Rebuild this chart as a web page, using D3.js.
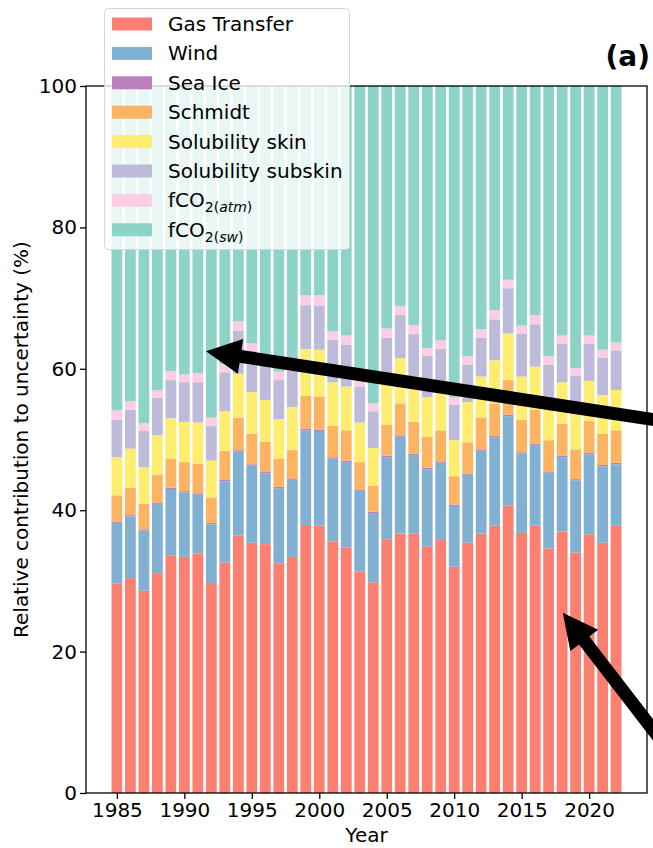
<!DOCTYPE html>
<html>
<head>
<meta charset="utf-8">
<script src="https://cdn.jsdelivr.net/npm/d3@7"></script>
<style>
  body { margin: 0; background: #fff; }
  text { font-family: "DejaVu Sans", sans-serif; fill: #000; }
</style>
</head>
<body>
<svg id="chart" width="653" height="848"></svg>
<script>
// 年
const years = [1985, 1986, 1987, 1988, 1989, 1990, 1991, 1992, 1993, 1994,
               1995, 1996, 1997, 1998, 1999, 2000, 2001, 2002, 2003, 2004,
               2005, 2006, 2007, 2008, 2009, 2010, 2011, 2012, 2013, 2014,
               2015, 2016, 2017, 2018, 2019, 2020, 2021, 2022];

// 各要素の寄与 (%)
const gasTransfer = [29.6, 30.4, 28.6, 31.1, 33.6, 33.4, 33.9, 29.7, 32.6, 36.4,
                     35.4, 35.2, 32.5, 33.4, 37.9, 37.8, 35.6, 34.7, 31.3, 29.8,
                     35.9, 36.7, 36.7, 34.9, 35.8, 32.0, 35.4, 36.7, 37.8, 40.7,
                     36.8, 37.8, 34.6, 37.0, 34.0, 36.6, 35.4, 37.8];
const wind = [8.6, 8.7, 8.5, 9.8, 9.4, 9.1, 8.3, 8.3, 11.5, 11.9,
              10.9, 10.0, 10.6, 10.9, 13.4, 13.4, 11.7, 12.1, 11.4, 9.8,
              11.6, 13.7, 11.1, 10.9, 10.9, 8.6, 9.6, 11.7, 12.5, 12.6,
              11.2, 11.4, 10.7, 10.5, 10.2, 11.3, 10.8, 8.7];
const seaIce = [0.2, 0.2, 0.2, 0.2, 0.2, 0.2, 0.2, 0.2, 0.2, 0.2,
                0.2, 0.2, 0.2, 0.2, 0.2, 0.2, 0.2, 0.2, 0.2, 0.2,
                0.2, 0.2, 0.2, 0.2, 0.2, 0.2, 0.2, 0.2, 0.2, 0.2,
                0.2, 0.2, 0.2, 0.2, 0.2, 0.2, 0.2, 0.2];
const schmidt = [3.7, 3.9, 3.6, 3.9, 4.1, 4.1, 4.2, 3.6, 4.1, 4.6,
                 4.3, 4.3, 4.0, 4.0, 4.7, 4.7, 4.4, 4.3, 3.9, 3.7,
                 4.4, 4.5, 4.5, 4.4, 4.4, 4.0, 4.4, 4.5, 4.6, 4.9,
                 4.6, 4.8, 4.4, 4.5, 4.2, 4.5, 4.4, 4.6];
const solSkin = [5.4, 5.5, 5.2, 5.6, 5.7, 5.7, 5.8, 5.2, 5.6, 6.2,
                 5.9, 5.9, 5.6, 6.1, 6.6, 6.6, 6.2, 6.2, 5.6, 5.3,
                 6.5, 6.4, 6.4, 5.6, 5.7, 5.1, 5.7, 5.8, 6.1, 6.6,
                 6.1, 6.1, 5.1, 5.9, 5.0, 5.7, 5.5, 5.7];
const solSubskin = [5.3, 5.5, 5.1, 5.3, 5.4, 5.6, 5.7, 4.9, 5.5, 6.1,
                    5.8, 5.2, 5.5, 5.2, 6.2, 6.2, 6.0, 5.9, 5.1, 5.2,
                    5.8, 6.1, 6.0, 5.8, 5.8, 5.0, 5.3, 5.5, 5.8, 6.4,
                    6.1, 6.0, 5.6, 5.5, 5.4, 5.3, 5.3, 5.6];
const fco2Atm = [1.3, 1.2, 1.1, 1.1, 1.3, 1.1, 1.3, 1.2, 1.2, 1.3,
                 1.1, 1.2, 1.2, 1.2, 1.4, 1.5, 1.2, 1.3, 1.1, 1.1,
                 1.3, 1.3, 1.3, 1.1, 1.2, 1.1, 1.2, 1.2, 1.3, 1.2,
                 1.1, 1.3, 1.2, 1.1, 1.1, 1.1, 1.1, 1.1];
const fco2Sw = [45.9, 44.6, 47.7, 43.0, 40.3, 40.8, 40.6, 46.9, 39.3, 33.3,
                36.4, 38.0, 40.4, 39.0, 29.6, 29.6, 34.7, 35.3, 41.4, 44.9,
                34.3, 31.1, 33.8, 37.1, 36.0, 44.0, 38.2, 34.4, 31.7, 27.4,
                33.9, 32.4, 38.2, 35.3, 39.9, 35.3, 37.3, 36.3];

// 系列名と色
const seriesKeys = ["gas", "wind", "ice", "schmidt", "skin", "subskin", "atm", "sw"];
const seriesColors = ["#fb8072", "#80b1d3", "#bc80bd", "#fdb462", "#ffed6f", "#bebada", "#fccde5", "#8dd3c7"];
const seriesValues = [gasTransfer, wind, seaIce, schmidt, solSkin, solSubskin, fco2Atm, fco2Sw];

const yTicks = [0, 20, 40, 60, 80, 100];
const xTicks = [1985, 1990, 1995, 2000, 2005, 2010, 2015, 2020];

// 矢印 (データ座標: [年, %])
const arrows = [
    { tip: [1991.6, 62.5], tail: [2025.5, 52.6] },
    { tip: [2018.05, 25.5], tail: [2027.5, 2.1] }
];

// レイアウト
const plotLeft = 86, plotRight = 647, plotTop = 86, plotBottom = 793;
const fontSize = 20;
const svg = d3.select("#chart");

const x = d3.scaleLinear()
    .domain([years[0] - 0.4 - 0.05 * 37.8, years[years.length - 1] + 0.4 + 0.05 * 37.8])
    .range([plotLeft, plotRight]);
const y = d3.scaleLinear().domain([0, 100]).range([plotBottom, plotTop]);
const color = d3.scaleOrdinal().domain(seriesKeys).range(seriesColors);

// 積み上げデータ
const table = years.map((yr, i) => {
    const row = { year: yr };
    seriesKeys.forEach((k, j) => row[k] = seriesValues[j][i]);
    return row;
});
const stacked = d3.stack().keys(seriesKeys)(table);

// 棒の描画
const layers = svg.append("g").selectAll("g")
    .data(stacked)
    .join("g")
    .attr("fill", d => color(d.key));

layers.selectAll("rect")
    .data(d => d)
    .join("rect")
    .attr("x", d => x(d.data.year - 0.4))
    .attr("width", d => x(d.data.year + 0.4) - x(d.data.year - 0.4))
    .attr("y", d => y(d[1]))
    .attr("height", d => y(d[0]) - y(d[1]));

// 軸
const xAxis = d3.axisBottom(x).tickValues(xTicks).tickFormat(d3.format("d")).tickSize(6).tickPadding(4);
const yAxis = d3.axisLeft(y).tickValues(yTicks).tickSize(6).tickPadding(3);

svg.append("g")
    .attr("transform", `translate(0,${plotBottom})`)
    .call(xAxis)
    .call(g => g.select(".domain").remove())
    .call(g => g.selectAll("line").attr("stroke", "#000").attr("stroke-width", 1.3))
    .call(g => g.selectAll("text").attr("font-size", fontSize).attr("font-family", "DejaVu Sans").attr("fill", "#000"));

svg.append("g")
    .attr("transform", `translate(${plotLeft},0)`)
    .call(yAxis)
    .call(g => g.select(".domain").remove())
    .call(g => g.selectAll("line").attr("stroke", "#000").attr("stroke-width", 1.3))
    .call(g => g.selectAll("text").attr("font-size", fontSize).attr("font-family", "DejaVu Sans").attr("fill", "#000"));

// 枠線
svg.append("rect")
    .attr("x", plotLeft).attr("y", plotTop)
    .attr("width", plotRight - plotLeft).attr("height", plotBottom - plotTop)
    .attr("fill", "none").attr("stroke", "#000").attr("stroke-width", 1.3);

// 軸ラベル
svg.append("text")
    .attr("x", (plotLeft + plotRight) / 2).attr("y", 842)
    .attr("text-anchor", "middle").attr("font-size", fontSize)
    .text("Year");

svg.append("text")
    .attr("transform", `translate(28,${(plotTop + plotBottom) / 2}) rotate(-90)`)
    .attr("text-anchor", "middle").attr("font-size", fontSize)
    .text("Relative contribution to uncertainty (%)");

// パネルラベル
svg.append("text")
    .attr("x", 650).attr("y", 66)
    .attr("text-anchor", "end").attr("font-size", 28).attr("font-weight", "bold")
    .text("(a)");

// 凡例
const legendLabels = ["Gas Transfer", "Wind", "Sea Ice", "Schmidt", "Solubility skin", "Solubility subskin", "atm", "sw"];
const legend = svg.append("g");
legend.append("rect")
    .attr("x", 104.5).attr("y", 8.5).attr("width", 245).attr("height", 241)
    .attr("rx", 4).attr("fill", "#fff").attr("fill-opacity", 0.8)
    .attr("stroke", "#d6d6d6").attr("stroke-width", 1);

const items = legend.selectAll("g.item")
    .data(seriesKeys)
    .join("g")
    .attr("class", "item")
    .attr("transform", (d, i) => `translate(0,${24 + i * 29.4})`);

items.append("rect")
    .attr("x", 112).attr("y", -6.5).attr("width", 40).attr("height", 13)
    .attr("fill", d => color(d));

items.each(function(d, i) {
    const t = d3.select(this).append("text").attr("x", 168).attr("y", 7).attr("font-size", fontSize);
    if (i < 6) {
        t.text(legendLabels[i]);
    } else {
        t.append("tspan").text("fCO");
        t.append("tspan").attr("dy", 5).attr("font-size", 14).text("2(");
        t.append("tspan").attr("font-size", 14).attr("font-style", "italic").text(legendLabels[i]);
        t.append("tspan").attr("font-size", 14).text(")");
    }
});

// 矢印の描画
const shaftW = 13, headL = 35, headW = 35;
arrows.forEach(a => {
    const tx = x(a.tip[0]), ty = y(a.tip[1]);
    const sx = x(a.tail[0]), sy = y(a.tail[1]);
    const len = Math.hypot(tx - sx, ty - sy);
    const ux = (tx - sx) / len, uy = (ty - sy) / len;
    const nx = -uy, ny = ux;
    const bx = tx - ux * headL, by = ty - uy * headL;
    const pts = [
        [sx + nx * shaftW / 2, sy + ny * shaftW / 2],
        [bx + nx * shaftW / 2, by + ny * shaftW / 2],
        [bx + nx * headW / 2, by + ny * headW / 2],
        [tx, ty],
        [bx - nx * headW / 2, by - ny * headW / 2],
        [bx - nx * shaftW / 2, by - ny * shaftW / 2],
        [sx - nx * shaftW / 2, sy - ny * shaftW / 2]
    ];
    svg.append("path")
        .attr("d", d3.line()(pts) + "Z")
        .attr("fill", "#000");
});
</script>
</body>
</html>
